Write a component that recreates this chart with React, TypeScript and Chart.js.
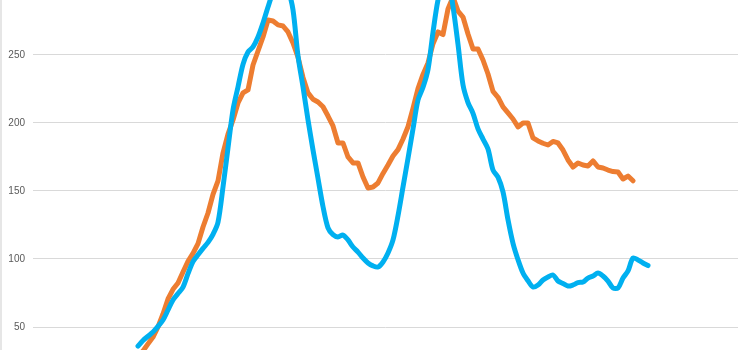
import React, { useEffect, useRef } from "react";
import { Chart, registerables } from "chart.js";

Chart.register(...registerables);

// day index of first value of each series
const blueStart = 21;
const orangeStart = 21;

const blueValues = [
  36.0, 40.1, 43.2, 46.3, 50.4, 55.1, 62.5, 69.9, 74.6, 79.4,
  89.2, 98.1, 103.1, 107.8, 112.2, 118.1, 127, 152.9, 181.6, 209.6,
  226.5, 243.1, 252.2, 255.9, 263.2, 273.5, 285.3, 296, 303, 304,
  298, 283.1, 249.3, 226.5, 202.3, 180.1, 159.3, 138.5, 122.9, 117.9,
  116.2, 117.6, 114, 108.8, 105.1, 100.7, 97.1, 94.9, 94.1, 97.8,
  104.4, 114, 131.8, 152.9, 174, 195.6, 216.9, 226.2, 239.3, 266.7,
  290.4, 303, 305, 285.5, 257.9, 228, 215, 207.1, 195.6, 188.2,
  180.9, 165.4, 160.2, 149.3, 128.8, 111.5, 99.5, 89.7, 84, 79.4,
  80.9, 84.6, 86.8, 88.2, 83.8, 82, 80.1, 80.9, 82.7, 83.1,
  86, 87.5, 89.7, 87.5, 83.8, 78.7, 78.7, 86, 91.2, 100.7,
  99.3, 97.1, 95.2,
];

const orangeValues = [
  28.7, 32.4, 37.6, 42.6, 50, 59.6, 70.6, 77.7, 82.4, 90.5,
  98.2, 104.1, 111.3, 123.5, 133.8, 147.5, 157.4, 177.9, 191.8, 202.2,
  214.7, 222.1, 224.3, 242.6, 252.9, 263.2, 275.7, 275, 272.1, 271.3,
  266.9, 258.8, 248.3, 233.5, 222.1, 217.4, 215.4, 211.9, 205.1, 197.8,
  185.3, 185.3, 175, 170.6, 170.6, 160.3, 152.2, 152.9, 155.9, 162.9,
  169.1, 175.7, 180.4, 188.2, 197.2, 210.7, 225.2, 235.7, 244.1, 258.3,
  266.9, 265, 283.8, 292.6, 282.2, 277.9, 265.4, 254.4, 254.4, 246.3,
  236, 223.2, 218.9, 211.8, 207.4, 202.9, 197.1, 200, 200, 189,
  186.8, 185.1, 183.8, 186.4, 185.3, 180.1, 172.8, 167.6, 170.6, 169.1,
  168.4, 172.1, 167.6, 166.9, 165.4, 164.3, 164, 158.8, 161, 157.5,
];

const yTickValues = [50, 100, 150, 200, 250];
const xMin = 0;
const xMax = 141;
const yMin = 33.1;
const yMax = 290.4;

export default function App() {
  const ref = useRef<HTMLCanvasElement | null>(null);

  useEffect(() => {
    if (!ref.current) return;
    const chart = new Chart(ref.current, {
      type: "line",
      data: {
        datasets: [
          {
            label: "blue",
            data: blueValues.map((v, i) => ({ x: blueStart + i, y: v })),
            borderColor: "#00B0F0",
            borderWidth: 5,
            pointRadius: 0,
            tension: 0.3,
            borderCapStyle: "round",
            borderJoinStyle: "round",
            fill: false,
          },
          {
            label: "orange",
            data: orangeValues.map((v, i) => ({ x: orangeStart + i, y: v })),
            borderColor: "#ED7D31",
            borderWidth: 5,
            pointRadius: 0,
            tension: 0,
            borderCapStyle: "round",
            borderJoinStyle: "round",
            fill: false,
          },
        ],
      },
      options: {
        animation: false,
        responsive: false,
        maintainAspectRatio: false,
        layout: { padding: { left: 0, right: 12, top: 0, bottom: 0 } },
        plugins: { legend: { display: false }, tooltip: { enabled: false } },
        scales: {
          x: {
            type: "linear",
            min: xMin,
            max: xMax,
            display: false,
          },
          y: {
            type: "linear",
            min: yMin,
            max: yMax,
            afterBuildTicks: (scale: any) => {
              scale.ticks = yTickValues.map((v) => ({ value: v }));
            },
            afterFit: (scale: any) => {
              scale.width = 31;
              scale.paddingTop = 0;
              scale.paddingBottom = 0;
            },
            border: { display: false },
            grid: { color: "#d9d9d9", lineWidth: 1, drawTicks: false },
            ticks: {
              padding: 8,
              color: "#595959",
              font: { family: "Liberation Sans", size: 10 },
            },
          },
        },
      },
    });
    return () => chart.destroy();
  }, []);

  return (
    <div
      style={{
        position: "absolute",
        left: 0,
        top: 0,
        width: 750,
        height: 350,
        background: "#fff",
        borderLeft: "2px solid #e6e6e6",
        boxSizing: "border-box",
      }}
    >
      <canvas ref={ref} width={748} height={350} style={{ display: "block" }} />
    </div>
  );
}
